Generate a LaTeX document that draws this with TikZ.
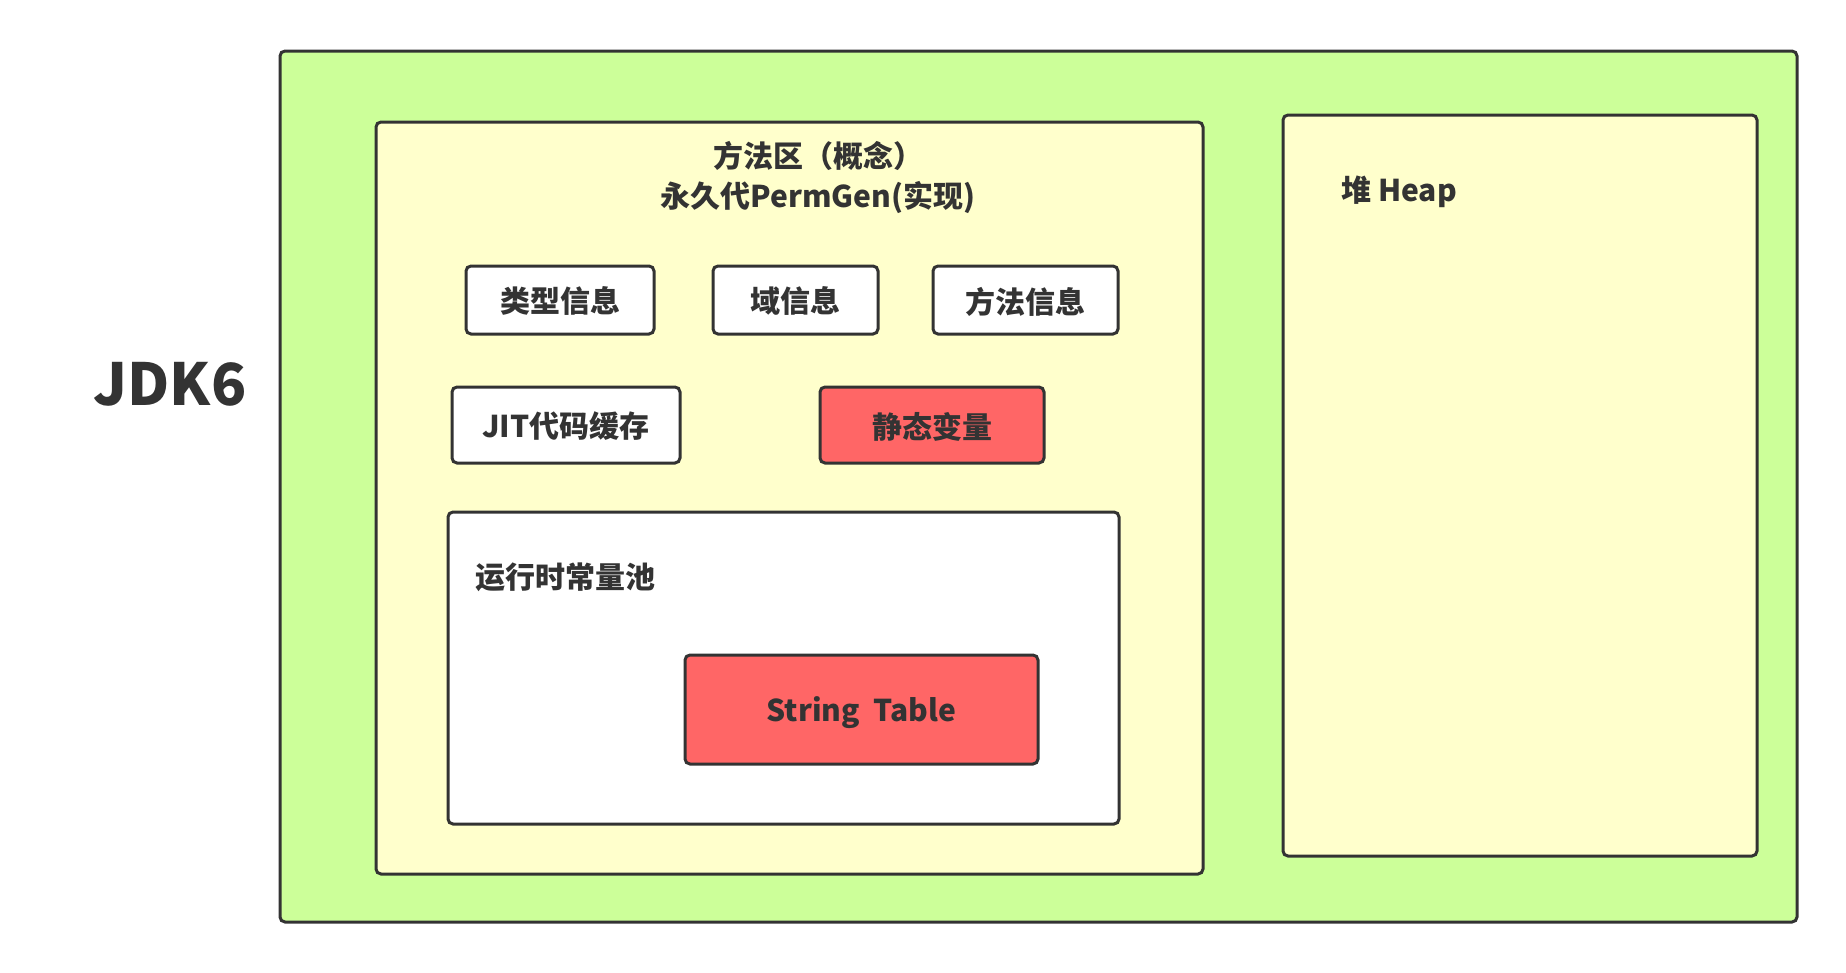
\documentclass[tikz,border=0pt]{standalone}
\usepackage{fontspec}
\setmainfont{Noto Sans CJK SC}
\definecolor{lc}{HTML}{333333}
\definecolor{gbg}{HTML}{CCFF99}
\definecolor{ybg}{HTML}{FFFFCC}
\definecolor{rbg}{HTML}{FF6666}
\begin{document}
\begin{tikzpicture}[x=1pt,y=-1pt,
  frame/.style={draw=lc,line width=3pt,rounded corners=5pt},
  lbl/.style={text=lc,font=\bfseries\fontsize{30}{40}\selectfont,inner sep=0pt},
  box/.style={frame,fill=white,text=lc,font=\bfseries\fontsize{30}{36}\selectfont,text depth=-2pt}]
\useasboundingbox (0,0) rectangle (1846,972);
\fill[white] (0,0) rectangle (1846,972);
\draw[frame,fill=gbg] (280,51) rectangle (1797,922);
\draw[frame,fill=ybg] (376,122) rectangle (1203,874);
\draw[frame,fill=ybg] (1283,115) rectangle (1757,856);
\draw[frame,fill=white] (448,512) rectangle (1119,824);
\node[lbl,align=center] (title) at (818,177) {方法区（概念）\\永久代PermGen(实现)};
\node[lbl,anchor=west] (heap) at (1341,192) {堆 Heap};
\node[lbl,anchor=west] (pool) at (475,577) {运行时常量池};
\node[text=lc,font=\bfseries\fontsize{58}{70}\selectfont,inner sep=0pt] (jdk) at (170,384) {JDK6};
\node[box,minimum width=188pt,minimum height=68pt] (type) at (560,300) {类型信息};
\node[box,minimum width=165pt,minimum height=68pt] (field) at (795.5,300) {域信息};
\node[box,minimum width=185pt,minimum height=68pt] (method) at (1025.5,300) {方法信息};
\node[box,minimum width=228pt,minimum height=76pt] (jit) at (566,425) {JIT代码缓存};
\node[box,fill=rbg,minimum width=224pt,minimum height=76pt] (static) at (932,425) {静态变量};
\node[box,fill=rbg,minimum width=353pt,minimum height=109pt] (st) at (861.5,709.5) {String\ \ Table};
\end{tikzpicture}
\end{document}
